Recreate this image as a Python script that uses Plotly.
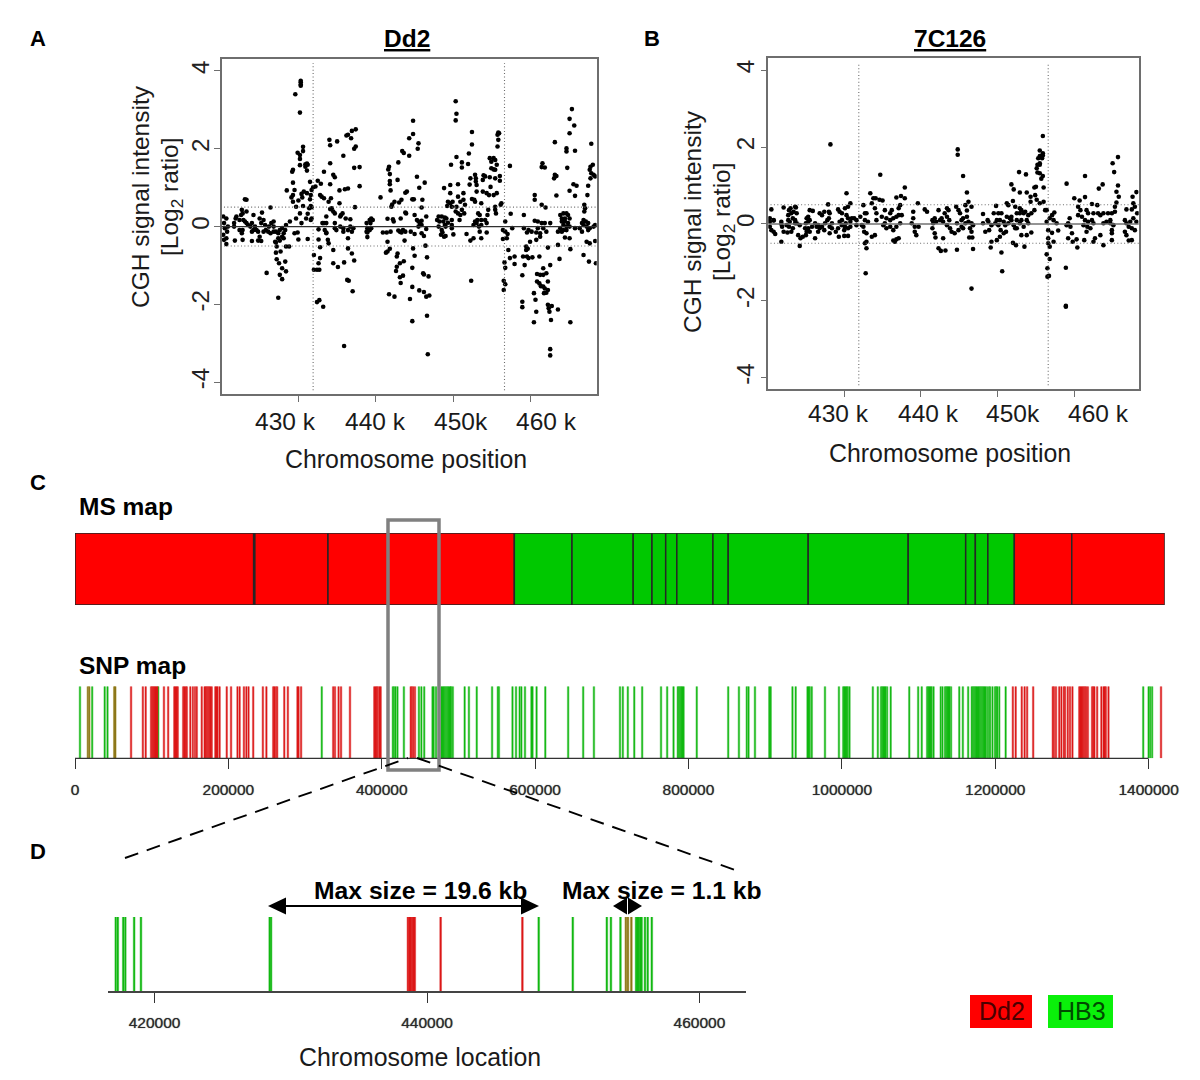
import plotly.graph_objects as go

W, H = 1200, 1080
FONT = "Liberation Sans"

DD2_PROBES = [
(420.3,.26),(420.7,.21),(420.4,.09),(420.9,0),(420.5,-.04),(420.8,-.13),(420.3,-.21),(420.7,-.3),(420.4,-.34),(420.7,-.45),
(421.7,.09),(421.7,0),(421.9,.21),(422.0,.26),(422.4,.17),(422.7,.43),(422.8,.34),(423.1,.7),(423.3,.69),(423.3,.39),(422.6,.3),(422.4,-.09),(422.7,-.17),(422.8,-.09),(421.8,-.36),(422.8,-.34),(422.9,.17),(423.1,.13),(423.3,.09),(423.5,.04),(423.8,0),(424,.09),(424.2,.3),(424,-.13),(424.2,-.09),(424,-.37),(424.4,0),(424.6,-.09),(424.8,-.13),(425,-.26),(424.8,-.36),(425.2,-.37),(425,.21),(425.3,.36),(425.5,.17),(425.2,.09),(425.7,.04),(425.5,-.13),(425.8,-.09),(426.1,-.13),(426.4,.49),(426.2,0),(426.5,.09),(426.8,.13),(426.8,0),(426.8,-.13),(426.4,-.17),(427.1,-.13),(427.4,-.17),(427.6,-.09),(427.9,-.04),(428.3,-.09),(428.1,-.17),(428.4,.04),(428.1,-.3),(427.9,-.26),(427.4,-.3),(427.1,-.41),(427,-.39),(427.6,-.36),(427.2,-.51),(427.1,-.67),(427.7,-.64),(428.4,-.51),(428.8,-.51),(427.2,-.84),(427.5,-.94),(428.3,-.9),(427.9,-1.07),(428.4,-1.15),(425.9,-1.19),(427.6,-1.24),(427.9,-1.35),(427.4,-1.83),
(428.5,.93),(428.9,.13),(429.3,1.13),(429.5,.94),(429.3,.81),(429.3,.64),(429.7,.51),(429.1,.75),(429.7,.21),(429.5,-.17),(429.9,-.15),(430,-.33),(430.4,.09),(430.6,.53),(430.5,.75),(430.4,.84),(430.7,.9),(430,.67),(430.2,.34),(431.2,.33),(431,.21),(431.6,.53),(431.4,.47),(431.7,.5),(431.5,.7),(431.6,.81),(431.7,.94),(431.5,1.15),(431.9,1.01),(432.2,1.03),(432.5,1.18),(432.9,1.1),(431.2,-.32),(429.3,1.46),(429.2,1.41),(431.1,1.62),(430.9,1.6),(431.2,1.59),(430.9,1.54),(431.1,1.44),(430.2,1.58),(430.2,1.74),(430.2,1.84),(429.9,1.9),(430.6,2.05),(430.6,1.94),(431.7,.21),(431.6,.17),(431.1,.86),
(429.6,3.4),(430.3,3.75),(430.3,3.71),(430.3,3.65),(430.3,3.62),(430.2,2.93),
(432,-.73),(432.8,-.81),(432.6,-.94),(432,-1.11),(432.4,-1.11),(432.7,-1.11),(432.7,-1.89),(432.4,-1.94),(433.2,-2.06),(435.9,-3.07),
(432.6,-.07),(432.6,-.33),(432.8,-.53),(433.3,.09),(433.1,.09),(433.6,.09),(433.4,-.09),(433.6,-.17),(433.6,-.15),(433.8,-.34),(433.9,-.43),(434.5,-.6),(434.5,-.94),(435.1,-1.04),(435.9,-.92),(436.4,-.56),(436.9,-.69),(437.2,-.87),(436.3,-1.37),(436.5,-1.39),(437,-1.66),
(432.8,.81),(433,.77),(433.3,.73),(433.9,.64),(434.2,.73),(434.1,.45),(434.3,.47),(434.5,.39),(434.7,.34),(433.6,.26),(435.3,.6),(435.5,.3),(435.7,.34),(435.4,.26),(436.1,.21),(436.7,.19),(434.7,.09),(434.7,-.04),(435.4,0),(434.9,-.09),(435.8,-.04),(435.8,-.13),(436.4,-.09),(436.7,0),(436.9,-.13),(437.1,-.04),(436.4,-.3),(437.3,.5),(435.3,.93),(436,.96),(436.4,.98),(434.1,1.09),(434.5,1.33),(434.7,1.27),(433.3,1.41),(434.1,1.63),(435.8,1.82),(434,2.23),(434.1,2.09),(435,2.19),(436.2,2.34),(436.4,2.36),(436.9,2.46),(437.4,2.5),(436.8,2.27),(437.4,2.06),(437.2,2),(437.2,1.51),(437.9,1.53),(437.9,1.04),
(438.8,.09),(439.2,.17),(439.4,.21),(439.6,.17),(439.3,.09),(438.9,-.04),(439.2,-.09),(439.4,-.04),(438.9,-.15),(438.9,-.27),(438.8,-.13),
(440.6,.75),(440.9,-.15),(441.5,.2),(441.4,-.15),(441.9,-.13),(441.5,-.39),(442.2,.19),(442.3,.13),(442.0,.51),(442.1,.57),(442.4,.64),(443,.62),(443.3,.69),(443.8,.87),(444,.9),(441.7,1.54),(441.6,1.47),(441.8,1.35),(441.8,1.17),(441.8,1.09),(441.9,.93),(442.8,1.2),(442.9,1.65),(443.4,1.94),(443.6,1.89),(444.3,1.82),(444.3,2.27),(444.8,2.38),(444.8,2.72),(445.5,2.14),(445.4,2),(445.3,1.28),(446.3,1.13),(445.6,1),
(444.7,.7),(444.9,.7),(446,.69),(445.9,.49),(443.8,.36),(443.9,.34),(445,.3),(443.2,.21),(445.3,.17),(445.5,.13),(445.9,.15),(445.7,.07),(446.5,.26),(445.5,0),(445.9,.04),(443.5,-.09),(443.1,-.13),(443.3,-.15),(442.9,-.1),(443.8,-.13),(444.5,-.13),(445,-.19),(445.9,-.17),(446.5,-.06),(446.2,-.24),(443.7,-.36),(446.4,-.49),(444.8,-.56),
(441.8,-.57),(441.5,-.64),(441.3,-.67),(442.8,-.69),(442.7,-.77),(443.6,-.89),(443.1,-.94),(442.7,-1.03),(442.6,-1.14),(443.5,-1.26),(443.1,-1.3),(443.2,-1.45),(445,-.75),(444.7,-1.06),(446.6,-.79),(446.1,-1.2),(446.2,-1.23),(446.8,-1.28),(444.7,-1.55),(445.6,-1.64),(446.2,-1.68),(446.5,-1.8),(446.9,-1.77),(441.7,-1.74),(442.4,-1.8),(444.4,-1.86),(446.6,-2.29),(444.7,-2.43),(446.7,-3.28),
(450.3,3.22),(450.4,2.9),(450.3,2.73),(452.4,2.43),(452.4,2.11),(452,1.88),(450.4,1.79),(449.7,1.59),(451.1,1.65),(451.9,1.61),(451.1,1.52),
(448.8,.99),(449.6,1.07),(450.6,1.09),(449.6,.86),(449.3,.64),(449.2,.53),(450.6,.77),(451.3,.86),(452.1,1.08),(452.2,1.24),(452.8,1.33),(452.9,1.24),(452.9,1.16),(453.9,1.32),(454.1,1.29),(453.8,1.2),(453,1.07),(453,.9),(453.8,.9),(454.3,.86),(454.6,.81),(452.4,.71),(452.7,.69),(452.8,.64),(453.6,.6),(455.2,.81),(455.6,.86),
(448.1,.26),(448.5,.26),(448.9,.23),(449.1,.21),(449.8,.17),(447.9,.17),(448.2,.13),(448.7,.13),(449.3,.1),(448.9,.04),(449.8,.04),(448.1,0),(448.5,-.09),(449,0),(448.6,-.15),(448.4,-.21),(448.8,-.26),(449,-.24),(449.8,-.04),(450,-.2),
(449.6,.6),(449.9,.64),(450.4,.51),(450.3,.39),(450.6,.34),(451.1,.43),(450.9,.3),(451.5,.56),(451.3,.69),(450.9,.64),(451.4,.34),(450.8,.17),(449.8,.51),(453.2,.34),(453.4,.3),(453.1,.17),(452.8,.13),(453.6,.17),(454.1,.17),(453,.09),(453.6,.04),(454.3,.09),(453.3,0),(452.6,.04),(453.4,-.13),(454.3,-.15),(454.4,.3),(454.5,.43),(455.4,.43),(455.5,.34),(456.2,.6),(456.1,.56),(455.4,.51),
(451.7,-.19),(452.6,-.3),(452.2,-.36),(453.6,-.3),(452.3,-1.39),
(454.7,1.76),(455.2,1.76),(455.4,1.71),(454.9,1.67),(455.6,1.59),(454.9,1.5),(455.4,1.46),(455.2,1.47),(456,1.3),(454.7,1.27),(456,1.18),(455.4,1.24),(454.8,1.02),(455.8,2.42),(455.9,2.4),(455.7,2.36),(455.8,2.23),(455.7,2.06),(457.3,1.56),
(456.7,.13),(456.4,-.09),(456.7,-.13),(456.4,-.32),(457,-.19),(456.9,-.3),(457.6,-.04),(457.4,.33),(457.1,-.6),(457.9,-.77),(456.6,-.92),(457.3,-.81),(456.7,-1.06),(457.9,-.96),(456.5,-1.39),(456.7,-1.48),(456.5,-1.63),
(458.9,-1.25),(459.1,.3),(459.1,-.04),(459.5,-.15),(459.7,-.09),(460.1,-.13),(459.4,-.51),(459.6,-.57),(459.4,-.6),(459.9,-.39),(459,-.77),(459.5,-.77),(459.7,-.81),(460.2,-.79),(459.2,-.99),(458.9,-1.93),(458.9,-2.07),(460.4,-2.46),(460.4,-1.71),(460.6,-1.88),(460.7,-2.19),
(460.5,.81),(460.5,.69),(461.4,.56),(461.9,.49),(460.5,.15),(460.9,.13),(461.4,.09),(460.9,-.04),(460.7,-.15),(461.2,-.17),(461.6,-.04),(461.8,.09),(462,-.13),(462.5,.09),(460.7,-.34),(461.2,-.26),(462.2,-.54),(461.1,-.77),(463.5,-.47),
(461.5,1.63),(461.4,1.53),(461.8,1.52),(463.1,1.33),(463.3,1.3),(463,1.24),(463.3,.8),(463.1,2.17),
(460.8,-1.22),(461.2,-1.24),(461.6,-1.24),(462,-1.2),(462.5,-.99),(461.6,-1.07),(460.8,-1.41),(461.1,-1.46),(461.3,-1.53),(461.6,-1.54),(462.2,-1.41),(461.8,-1.59),(462.2,-1.63),(462,-1.7),(461.7,-1.71),(462.2,-2.01),(462.7,-2.04),(462.3,-2.1),(462.4,-2.19),(463.5,-2.13),(462.6,-2.4),(462.5,-3.15),(462.5,-3.31),(465.1,-2.46),(463.7,-.83),
(463.5,-.13),(463.8,.3),(464.2,.34),(464.6,.34),(464.8,.3),(464,.21),(464.4,.21),(465,.21),(464,.13),(464.4,.13),(464.8,.09),(464.2,.04),(464.6,0),(465,0),(463.8,-.04),(464.2,-.09),(464.6,-.09),(464,-.13),(464.4,-.28),(465,-.3),(465.1,-.58),
(464.6,2.01),(464.6,1.93),(465.7,1.95),(465,2.4),(465.6,2.6),(465,2.77),(465.3,3.02),(464.7,1.51),(465,.92),(465.5,1.09),(465.9,1.05),(465.7,.79),(467.3,.81),(467.4,1.05),(467.8,2.13),(467.7,1.54),(468,1.59),(467.6,1.46),(467.8,1.37),(468.1,1.33),(467.7,1.24),(468.3,1.29),
(465.7,-.04),(466.3,-.04),(466.6,.09),(466.8,.17),(467.1,.13),(467.4,.09),(466.8,.04),(467.2,0),(467.6,-.04),(466.6,-.13),(467.4,-.09),(466.9,.56),(467,.47),(466.9,.39),(468.1,0),(468.3,.04),(467.2,-.39),(467.6,-.43),(468.3,-.37),(466.8,-.73),(467.5,-.9),(468.4,-.94),
]

C7126_PROBES = [
(420.3,.15),(420.5,.38),(420.8,.1),(420.3,.06),(420.8,.09),(420.3,-.07),(420.5,-.16),(420.8,-.2),(421,-.26),
(421.8,.06),(422.1,.43),(421.8,-.46),(421.9,-.07),(421.8,0),(422.1,-.2),(422.6,-.22),(422.8,.36),(422.7,.23),(422.7,.1),(422.9,.06),(423,.41),(423.1,.28),(423.3,.15),(423.4,.32),(423.6,.45),(423.7,.43),(423.8,.28),(423.6,.1),(423.6,.02),(423.1,-.2),(423.3,-.11),(422.5,-.03),(422.8,-.07),(423.8,.02),(424.2,-.03),(424,-.29),(424.3,-.37),(424.6,-.33),(424.2,-.57),
(425.1,.15),(425.3,.19),(425,.02),(425.3,.06),(425.5,.1),(424.9,-.11),(425.3,-.11),(425.8,-.07),(425.1,-.2),(425,-.29),(425.5,-.2),(425.5,.36),(425.9,.34),(426.2,-.37),(426.4,-.07),(426.6,-.03),(426.2,.02),(426.8,.28),(427.1,.23),(427.4,.32),(426.6,-.2),(426.8,-.11),(427.1,-.07),(427.4,-.16),(427.5,.02),(427.8,.1),(427.9,.51),(428,.32),(428.1,.28),(428,.15),(428.1,-.07),(428.4,.02),(428.1,-.24),(428.4,-.11),(428.2,2.07),
(429.2,.38),(429.4,.32),(429.7,.28),(429.4,.06),(429.7,-.03),(429.2,-.11),(428.9,-.2),(429.3,-.33),(430,-.31),(430.5,-.31),(430,-.16),(430.2,.02),(429.7,.1),(430.3,.23),(430.5,.15),(430.8,.54),(430.5,.45),(430.1,.41),(430.3,.8),(430.8,.06),(431,.15),(430.8,-.07),(430.1,-.07),(430.5,-.11),(431.3,.15),(431.6,.1),(432.1,.19),(432.5,.49),(432.7,.28),(431.6,-.03),(432.3,-.03),(432.7,.1),(432.5,-.07),(432.6,-.2),
(432.9,.28),(433.1,.06),(433.4,.8),(433.6,.54),(433.8,.67),(434.1,.67),(434.6,.63),(435,.61),(434,.41),(434.2,.28),(434.2,.1),(434.7,1.28),(435.3,.36),(434.9,.19),(435.1,-.03),(435.5,.15),(436,.28),(436.2,.36),(436.4,.15),(436.8,.19),(437.1,.23),(435.5,-.11),(436,-.07),(436.4,-.16),(436.8,-.07),(437.3,.02),(437.5,.23),(437.1,.41),(437.3,.49),(436.8,.69),(437.4,.73),(437.9,.95),(437.9,.67),(435.3,.02),(436,.1),
(432.9,-.24),(432.7,-.5),(432.9,-.46),(432.9,-.63),(432.8,-1.28),(433.6,-.33),(434,-.29),(436.6,-.46),(436.8,-.4),(436.4,-.43),(437.1,-.37),
(439,.32),(439,.15),(438.8,.02),(439.2,-.07),(439.7,-.07),(439.2,-.2),(439.4,-.29),(439.6,.54),(440.5,.38),(440.8,.32),
(441.5,.1),(441.8,.15),(442.3,.36),(441.6,.02),(442,.06),(442.5,.1),(441.5,-.11),(441.8,-.24),(441.9,-.35),(442.7,.15),(442.9,.06),(443.4,.41),(443.6,.36),(443.1,.28),(443.4,.19),(443.7,.1),(443.4,-.03),(443.8,-.11),(444,-.2),(444.4,-.24),(442.9,-.37),(442.3,-.63),(442.6,-.7),(443.2,-.69),(444.7,-.67),(444.6,.45),(444.9,.36),(445.1,.28),(445.3,.1),(445.5,.15),(444.7,.02),(445.3,-.07),(444.9,-.16),(445.5,-.11),(445.8,.02),(446,.19),(446.2,.06),(445.8,.49),(446.2,.58),(446.6,.45),(446,.35),(446,.82),(445.5,1.25),(444.8,1.94),(444.8,1.8),(446.6,.02),(446.8,-.03),(446.4,-.11),(446.6,-.2),(446.3,-.35),(446.7,-.35),(446.8,-.65),(446.6,-1.68),
(448.1,.26),(448.1,.02),(448.4,-.2),(448.7,.1),(448.8,.06),(448.9,-.16),(449.2,-.03),(449.5,.28),(449.7,.02),(449.8,.47),(449.9,.1),(450.1,-.03),(450.1,.28),(450.3,.1),(450.4,-.16),(450.5,.28),(450.8,.06),(451,-.03),(450.8,-.24),(451.1,-.2),(451.2,.54),(451.4,.49),(451.2,.19),(451.6,.15),(451.8,.19),(451.4,.02),(451.8,.1),(452.1,-.03),(452.5,-.11),(449.2,-.46),(449.1,-.61),(449.9,-.42),(450.3,-.33),(450.5,-.74),(450.6,-1.23),
(451.8,1.03),(452.1,.9),(452.8,1.35),(453.7,1.29),(452.9,.82),(453.8,.82),(452,.6),
(452.3,.45),(452.5,.28),(452.9,.41),(453.1,.36),(453.6,.32),(452.9,.28),(453.4,.28),(454,.23),(454.4,.28),(454.8,.36),(452.5,.1),(453.1,.1),(453.8,.1),(452.3,-.11),(452.9,.02),(453.4,-.07),(454,.02),(454.4,-.22),(453.1,-.29),(453.8,-.29),(452,-.49),(452.4,-.55),(453.5,-.59),
(454.3,.71),(454.3,.58),(454.9,.75),(455,.97),(454.8,.95),(455.1,.63),(455.5,.54),(456,.58),(456.2,.36),(456,.95),
(455.9,2.29),(455.5,1.91),(455.9,1.84),(455.9,1.78),(455.5,1.77),(455.3,1.71),(455.8,1.71),(455.2,1.54),(455.5,1.54),(455.1,1.45),(455.5,1.58),(455.2,1.34),(455.5,1.32),(455.9,1.25),(455.7,1.18),
(456.4,.36),(457.1,.23),(457.4,.3),(456.8,.15),(457.3,.1),(457.7,.02),(457.9,-.17),(456.4,.06),(456.6,-.16),(457.1,-.23),(456.6,-.37),(457.3,-.46),(456.6,-.5),(456.8,-.59),(456.4,-.79),(456.8,-.91),(456.5,-1.15),(456.5,-1.37),(456.7,-1.35),
(458.9,-1.14),(458.9,-2.13),(458.9,-2.15),(459,1.05),(459.4,.15),(459.2,.02),(459.5,-.07),(459,-.03),(459.7,-.24),(459.2,-.37),(459.8,-.46),(460.3,-.4),(460.4,-.61),(461.3,-.42),(460,.67),(460.7,.61),(461.4,.7),(461.4,1.25),
(460.5,.45),(460.8,.36),(460.5,.23),(461,.19),(461.6,.36),(461.8,.28),(461.4,.1),(461.8,.06),(462.3,.1),(461.2,-.03),(461.7,-.07),(462.1,-.11),(462.5,.02),(462.3,.52),(463,.49),(462.5,.28),(463.1,.28),(463.4,.23),(463.8,.28),(461.6,-.2),(462.7,-.37),(462.5,-.46),(463.4,-.29),(463.8,-.55),
(463.2,.92),(463.7,1.03),(463.8,.02),(464.2,.06),(464.7,.02),(464.9,.28),(465.3,.32),(464.4,.28),(464.7,.1),(465.1,-.03),(464.9,-.16),(464.9,-.24),(464.9,-.42),(465.3,.45),(465.5,.56),(465.8,.71),(465.5,.84),(465.7,1),(465.2,1.35),(465,1.58),(465.7,1.74),
(466.6,.1),(466.8,.02),(467.1,-.07),(466.6,-.2),(466.8,-.29),(467.1,-.43),(467.5,-.42),(467.3,.06),(467.7,.15),(468.1,.06),(467.5,-.11),(467.9,-.16),(466.8,.38),(467.5,.38),(467.9,.45),(467.7,.54),(467.6,.71),(468.1,.83),(468.2,.28),
]

CGH_X_TICKS = [430, 440, 450, 460]
CGH_X_LABELS = ["430 k", "440 k", "450k", "460 k"]
CGH_Y_TICKS = [4, 2, 0, -2, -4]
CGH_VLINES = [431.9, 456.6]
CGH_HLINES = [0.5, -0.5]

# MS map: segment boundaries in bp and parental allele of each segment
MS_EDGES = [0, 233000, 234500, 329900, 572900, 648100, 727900, 752400, 770300, 784800, 831900,
            851800, 956100, 1086500, 1161500, 1174100, 1190400, 1224900, 1299800, 1421000]
MS_ALLELE = ["Dd2"]*4 + ["HB3"]*13 + ["Dd2"]*2

# SNP map positions in kb
SNP_HB3 = [6.5, 22.4, 38.7, 42.4, 108.5, 321.8, 414.5, 416, 418, 420.5, 428.9, 448.5, 451.7, 455.4, 466.2, 467.7, 470.8,
           477.8, 479.3, 480.8, 482.3, 483.8, 485.3, 486.8, 488.3, 489.8, 490.4, 492.7, 508.1, 513.7, 523.9, 543.9, 551.4, 552.8,
           570.5, 575.1, 579.8, 582.1, 586.8, 595.2, 596.6, 601.9, 613.3, 643.1, 662.7, 676.7, 710.7, 714.4, 720.9, 729.3, 739.6,
           764.2, 772.2, 780.5, 786.1, 787.6, 789.1, 790.6, 792, 793.6, 810.8, 851.8, 865.8, 876, 878.3, 886.7, 905.4, 907.2,
           935.6, 939.8, 955.2, 956.7, 958.2, 960.8, 978, 996.2, 1001.8, 1003.3, 1004.8, 1006.3, 1007.8, 1010, 1040.4, 1046.9,
           1051.1, 1052.6, 1054.1, 1055.6, 1057, 1059, 1063.7, 1087.9, 1099.5, 1104.2, 1111.2, 1112.7, 1114.2, 1115.7, 1117.2, 1119.6,
           1128.9, 1131.2, 1134.5, 1136, 1137.5, 1139, 1140.4, 1142.4, 1153.1, 1157.8, 1164.7, 1169.4, 1170.9, 1172.4, 1173.9, 1175.4,
           1176.9, 1178.4, 1179.9, 1181.4, 1182.9, 1184.4, 1185.9, 1187.4, 1189.4, 1191.8, 1193.3, 1196.4, 1199.7, 1201.2, 1202.7, 1205.3,
           1213.6, 1393, 1400, 1402, 1404.6]
SNP_DD2 = [73.1, 88.5, 92.2, 99.2, 100.6, 102, 103.4, 104.8, 106.2, 107.6, 116, 121.5, 129.5, 131, 132.5, 134, 141.1, 142.6, 144.4,
           145.8, 150.4, 153.7, 156.5, 158.8, 165.3, 169, 170.5, 172, 173.5, 175, 176.5, 178.3, 183, 184.5, 186, 188.6, 197.9, 203.5,
           211.9, 214.7, 220.3, 223.5, 226.3, 232.4, 245, 249.6, 258.5, 260, 262, 263.6, 272.9, 277.6, 290.1, 291.5, 294.8, 336.7, 339,
           343.7, 346.9, 358.6, 390.3, 392, 393.5, 395, 397, 398.6, 437.8, 439.3, 441, 443.3, 1223, 1226.7, 1234.6, 1238.3, 1241.6, 1249.5,
           1275.1, 1276.6, 1279.2, 1283.5, 1286.3, 1289.5, 1291, 1294.6, 1297.5, 1300.7, 1309.6, 1311.1, 1312.6, 1314.1, 1315.6, 1317.1,
           1318.6, 1320.8, 1326.3, 1327.8, 1329.3, 1332.9, 1338.4, 1341.2, 1342.7, 1344.2, 1347.7, 1416.2]
SNP_BOTH = [16.8, 18.6, 51.2, 52.6]

# zoomed SNP map positions in kb
ZOOM_HB3 = [417.15, 417.3, 417.7, 417.85, 418.5, 419, 428.45, 428.55, 448.2, 450.7, 453.2, 453.5, 454.2,
            455.35, 455.45, 455.55, 455.65, 455.75, 456, 456.2, 456.5]
ZOOM_DD2 = [438.6, 438.7, 438.8, 438.9, 439, 439.1, 441, 447]
ZOOM_BOTH = [454.6, 454.75, 455]

SNP_TICKS = [0, 200000, 400000, 600000, 800000, 1000000, 1200000, 1400000]
ZOOM_TICKS = [420000, 440000, 460000]

MAP_COLORS = {"Dd2": "#ff0000", "HB3": "#00c800"}
SNP_RED, SNP_GREEN, SNP_BROWN = "#dc1616", "#10b810", "#8a7414"
SOFT_RED, SOFT_GREEN, SOFT_BROWN = "#eda0a0", "#a2dfa2", "#cfc28c"


def fx(p):
    return p / W


def fy(p):
    return 1 - p / H


def rule_trace(positions, color, xa, ya, width):
    xs, ys = [], []
    for p in positions:
        xs += [p * 1000, p * 1000, None]
        ys += [0, 1, None]
    return go.Scatter(x=xs, y=ys, mode="lines", line=dict(color=color, width=width),
                      xaxis=xa, yaxis=ya, showlegend=False, hoverinfo="skip")


fig = go.Figure()
for probes, xa, ya in ((DD2_PROBES, "x", "y"), (C7126_PROBES, "x2", "y2")):
    fig.add_trace(go.Scatter(x=[p[0] for p in probes], y=[p[1] for p in probes], mode="markers",
                             marker=dict(color="#000000", size=4.6), xaxis=xa, yaxis=ya, showlegend=False))

for i in range(len(MS_ALLELE)):
    fig.add_trace(go.Bar(y=["MS"], x=[MS_EDGES[i + 1] - MS_EDGES[i]], base=[MS_EDGES[i]], orientation="h", width=1,
                         marker=dict(color=MAP_COLORS[MS_ALLELE[i]], line=dict(color="#262626", width=1.5)),
                         xaxis="x3", yaxis="y3", showlegend=False))

for xa, ya, groups, soft_w, core_w in (
    ("x4", "y4", ((SNP_HB3, SNP_GREEN, SOFT_GREEN), (SNP_DD2, SNP_RED, SOFT_RED), (SNP_BOTH, SNP_BROWN, SOFT_BROWN)), 2.6, 1.3),
    ("x5", "y5", ((ZOOM_HB3, SNP_GREEN, SOFT_GREEN), (ZOOM_DD2, SNP_RED, SOFT_RED), (ZOOM_BOTH, SNP_BROWN, SOFT_BROWN)), 2.8, 1.6),
):
    for positions, core, soft in groups:
        fig.add_trace(rule_trace(positions, soft, xa, ya, soft_w))
    for positions, core, soft in groups:
        fig.add_trace(rule_trace(positions, core, xa, ya, core_w))

GRAY = "#6e6e6e"
FRAME = dict(showline=True, mirror=True, linecolor=GRAY, linewidth=1.5, zeroline=False, showgrid=False,
             ticks="outside", ticklen=6, tickcolor=GRAY, tickwidth=1.2, automargin=False)


def ytick(standoff):
    return dict(tickvals=CGH_Y_TICKS, ticktext=[str(v) for v in CGH_Y_TICKS], tickangle=-90,
                tickfont=dict(family=FONT, size=24, color="#222222"), ticklabelstandoff=standoff)


HIDDEN = dict(showline=False, showgrid=False, zeroline=False, ticks="", showticklabels=False, automargin=False)
MAP_TICKFONT = dict(family=FONT, size=15.5, color="#2a2a2a", shadow="0 0 1px #555555")
MAP_AXIS = dict(showgrid=False, zeroline=False, ticks="outside", ticklen=10, tickwidth=1.2, tickcolor="#333333",
                tickfont=MAP_TICKFONT, ticklabelstandoff=7, automargin=False)

fig.update_layout(
    template="none",
    width=W, height=H, autosize=False, margin=dict(l=0, r=0, t=0, b=0, pad=0),
    paper_bgcolor="white", plot_bgcolor="white", barmode="overlay", showlegend=False,
    font=dict(family=FONT, color="#222222"),
    xaxis=dict(domain=[fx(221.7), fx(596.7)], range=[420.1, 468.5], anchor="y", tickvals=CGH_X_TICKS, showticklabels=False, **FRAME),
    yaxis=dict(domain=[fy(394.3), fy(59.3)], range=[-4.31, 4.30], anchor="x", **ytick(-5), **FRAME),
    xaxis2=dict(domain=[fx(768.3), fx(1138.7)], range=[420.1, 468.4], anchor="y2", tickvals=CGH_X_TICKS, showticklabels=False, **FRAME),
    yaxis2=dict(domain=[fy(389.3), fy(58.3)], range=[-4.30, 4.31], anchor="x2", **ytick(-3), **FRAME),
    xaxis3=dict(domain=[fx(75), fx(1164.7)], range=[0, 1421000], anchor="y3", **HIDDEN),
    yaxis3=dict(domain=[fy(605), fy(533)], range=[-0.5, 0.5], anchor="x3", type="category", **HIDDEN),
    xaxis4=dict(domain=[fx(75), fx(1164.7)], range=[0, 1421000], anchor="y4", showline=False,
                tickvals=SNP_TICKS, ticktext=[str(v) for v in SNP_TICKS], **MAP_AXIS),
    yaxis4=dict(domain=[fy(758.3), fy(685)], range=[0, 1.02], anchor="x4", **HIDDEN),
    xaxis5=dict(domain=[fx(108), fx(745.5)], range=[416580, 463380], anchor="y5", showline=True, linecolor="#444444", linewidth=1.5,
                tickvals=ZOOM_TICKS, ticktext=[str(v) for v in ZOOM_TICKS], **MAP_AXIS),
    yaxis5=dict(domain=[fy(991), fy(917)], range=[0, 1], anchor="x5", **HIDDEN),
)

DOT = dict(color="#6a6a6a", width=1.1, dash="1px,2.4px")
shapes = []
for xr, yr in (("x", "y"), ("x2", "y2")):
    for v in CGH_VLINES:
        shapes.append(dict(type="line", xref=xr, yref=f"{yr} domain", x0=v, x1=v, y0=0.012, y1=0.988, line=DOT))
    for v in CGH_HLINES:
        shapes.append(dict(type="line", xref=f"{xr} domain", yref=yr, x0=0.006, x1=1, y0=v, y1=v, line=DOT))
    shapes.append(dict(type="line", xref=f"{xr} domain", yref=yr, x0=0, x1=1, y0=0, y1=0,
                       line=dict(color="#303030" if xr == "x" else "#707070", width=1.3)))

# SNP axis line stops at the last tick
shapes.append(dict(type="line", xref="x4", yref="y4 domain", x0=0, x1=1400000, y0=0, y1=0, line=dict(color="#333333", width=1.3)))


def rect(x0, x1, y0, y1, **kw):
    return dict(type="rect", xref="paper", yref="paper", x0=fx(x0), x1=fx(x1), y0=fy(y1), y1=fy(y0), **kw)


def seg(x0, y0, x1, y1, **kw):
    return dict(type="line", xref="paper", yref="paper", x0=fx(x0), x1=fx(x1), y0=fy(y0), y1=fy(y1), **kw)


def tri(tipx, basex, y, half):
    p = f"M {fx(tipx)} {fy(y)} L {fx(basex)} {fy(y - half)} L {fx(basex)} {fy(y + half)} Z"
    return dict(type="path", xref="paper", yref="paper", path=p, fillcolor="#000000", line=dict(width=0))


DASH = dict(color="#000000", width=1.9, dash="14px,9px")
shapes += [
    rect(388, 439, 520, 770, line=dict(color="#808080", width=3.5)),
    seg(125, 858, 408, 758, line=DASH),
    seg(417, 758, 738, 871, line=DASH),
    seg(280, 906, 527, 906, line=dict(color="#000000", width=1.8)),
    tri(268, 286, 906, 8.5), tri(539, 521, 906, 8.5),
    tri(613, 627, 906, 8.5), tri(642, 628, 906, 8.5),
    rect(970, 1032, 995, 1028, fillcolor="#ff0000", line=dict(width=0)),
    rect(1048, 1113, 995, 1028, fillcolor="#0af00a", line=dict(width=0)),
]

notes = []


def note(px, py, text, size, bold=False, color="#1a1a1a", angle=0, xanchor="center"):
    notes.append(dict(x=fx(px), y=fy(py), xref="paper", yref="paper", text=text, showarrow=False, textangle=angle,
                      xanchor=xanchor, yanchor="middle", align="center",
                      font=dict(family=FONT, size=size, color=color, weight="bold" if bold else "normal")))


for label, px, py in (("A", 38, 38), ("B", 652, 38), ("C", 38, 482), ("D", 38, 851)):
    note(px, py, label, 22, bold=True, color="#000000")
note(407, 38, "<u>Dd2</u>", 24.5, bold=True, color="#000000")
note(950, 38, "<u>7C126</u>", 24.5, bold=True, color="#000000")

for text, px in zip(CGH_X_LABELS, (285.5, 375, 460.5, 546)):
    note(px, 421, text, 24.5)
for text, px in zip(CGH_X_LABELS, (838, 928, 1013, 1098)):
    note(px, 413, text, 24.5)
note(406, 459, "Chromosome position", 24.9)
note(950, 453, "Chromosome position", 24.9)
note(141, 197, "CGH signal intensity", 24.5, angle=-90)
note(172, 197, "[Log<sub>2</sub> ratio]", 24.5, angle=-90)
note(693, 222, "CGH signal intensity", 24.5, angle=-90)
note(724, 222, "[Log<sub>2</sub> ratio]", 24.5, angle=-90)
note(77, 506.5, "MS map", 24.5, bold=True, color="#000000", xanchor="left")
note(77, 665.5, "SNP map", 24.5, bold=True, color="#000000", xanchor="left")
note(420, 890.5, "Max size = 19.6 kb", 24.7, bold=True, color="#000000")
note(662, 890.5, "Max size = 1.1 kb", 24.7, bold=True, color="#000000")
note(419.5, 1057, "Chromosome location", 24.9)
note(1002, 1011, "Dd2", 25, color="#4a0000")
note(1081, 1011, "HB3", 25, color="#004a00")

fig.update_layout(shapes=shapes, annotations=notes)
fig.write_html("out.html", config={"displayModeBar": False},
               post_script="document.body.style.margin='0';document.body.style.overflow='hidden';")
